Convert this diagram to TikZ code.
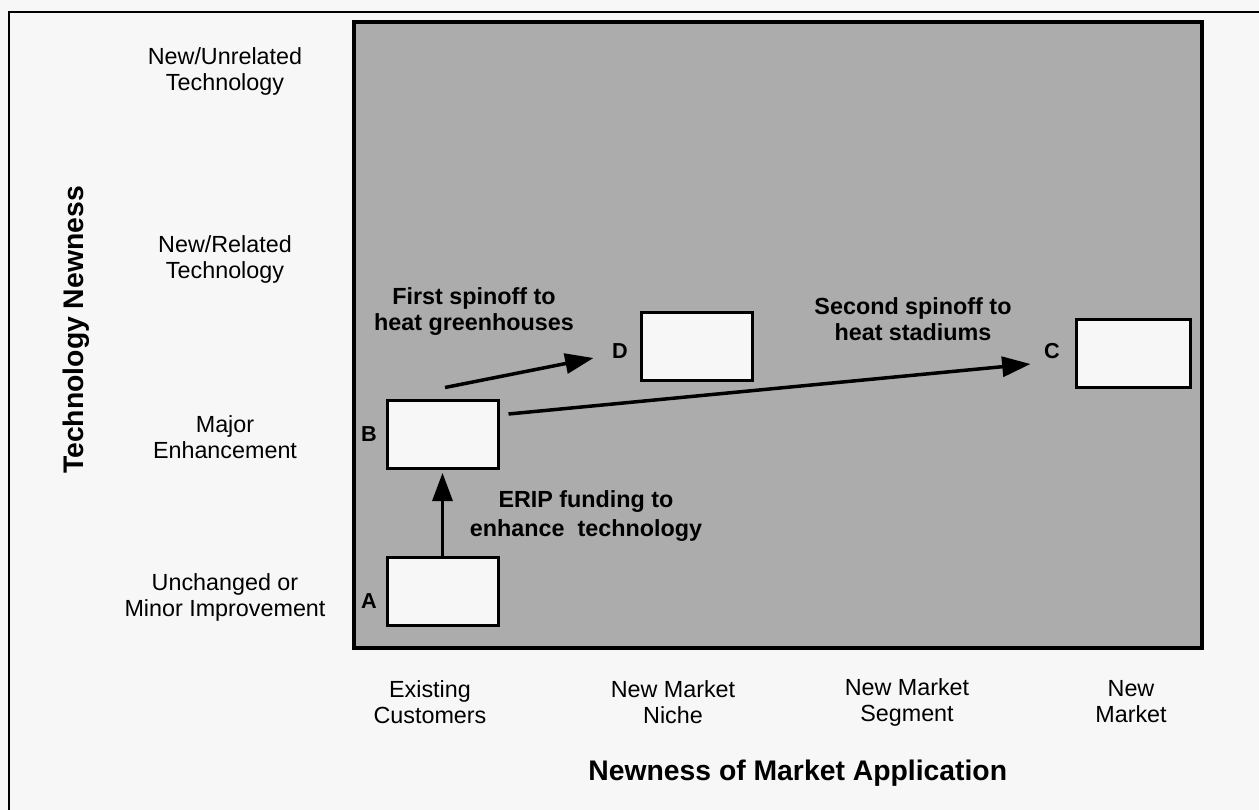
\documentclass[tikz,border=0pt]{standalone}
\usepackage{fontspec}
\setmainfont{Liberation Sans}
\usetikzlibrary{arrows.meta}
\definecolor{paper}{RGB}{247,247,247}
\definecolor{panelgray}{RGB}{172,172,172}
\definecolor{boxwhite}{RGB}{247,247,247}
\begin{document}
\begin{tikzpicture}[x=0.6pt,y=-0.6pt,
  lab/.style={font=\fontsize{14}{15.6}\selectfont, align=center, inner sep=0pt},
  blab/.style={font=\bfseries\fontsize{14}{15.6}\selectfont, align=center, inner sep=0pt},
  title/.style={font=\bfseries\fontsize{17}{20}\selectfont, inner sep=0pt},
  letter/.style={font=\bfseries\fontsize{13}{15}\selectfont, inner sep=0pt},
  cell/.style={draw=black, fill=boxwhite, line width=1.8pt, minimum width=66.6pt, minimum height=40.8pt, inner sep=0pt},
  arr/.style={line width=2.1pt, -{Triangle[length=17pt,width=12pt]}}]
\useasboundingbox[fill=paper] (0,0) rectangle (1259,810);
% outer frame
\draw[line width=1.2pt] (9,815) -- (9,12) -- (1265,12);
% panel
\draw[fill=panelgray, line width=2.4pt] (354,22) rectangle (1202,648);
% left labels
\node[lab] (y4) at (225,71) {New/Unrelated\\Technology};
\node[lab] (y3) at (225,259) {New/Related\\Technology};
\node[lab] (y2) at (225,437) {Major\\Enhancement};
\node[lab] (y1) at (225,597) {Unchanged or\\Minor Improvement};
\node[title, rotate=90] (ytitle) at (76,330) {Technology Newness};
% bottom labels
\node[lab] (x1) at (430,702) {Existing\\Customers};
\node[lab] (x2) at (673,702) {New Market\\Niche};
\node[lab] (x3) at (907,702) {New Market\\Segment};
\node[lab] (x4) at (1131,702) {New\\Market};
\node[title, anchor=west] (xtitle) at (588,773) {Newness of Market Application};
% boxes
\node[cell] (A) at (442.5,591) {};
\node[cell] (B) at (442.5,434) {};
\node[cell] (D) at (696.5,346) {};
\node[cell, minimum width=68.4pt] (C) at (1133,353) {};
\node[letter] (la) at (369,601) {A};
\node[letter] (lb) at (369,434) {B};
\node[letter] (ld) at (620,351) {D};
\node[letter] (lc) at (1052,351) {C};
% arrows
\draw[arr, shorten >=2pt] (A.north) -- (B.south);
\coordinate (bdS) at ([shift={(2.5,-11)}]B.north);
\coordinate (bdT) at ([shift={(-46,12)}]D.west);
\draw[arr] (bdS) -- (bdT);
\coordinate (bcS) at ([shift={(9,-20)}]B.east);
\coordinate (bcT) at ([shift={(-44,11)}]C.west);
\draw[arr] (bcS) -- (bcT);
% arrow labels
\node[blab] (t1) at (474,312) {First spinoff to\\heat greenhouses};
\node[blab] (t2) at (913,319) {Second spinoff to\\heat stadiums};
\node[blab, font=\bfseries\fontsize{14}{17.4}\selectfont] (t3) at (586,516) {ERIP funding to\\enhance\ \ technology};
\end{tikzpicture}
\end{document}
